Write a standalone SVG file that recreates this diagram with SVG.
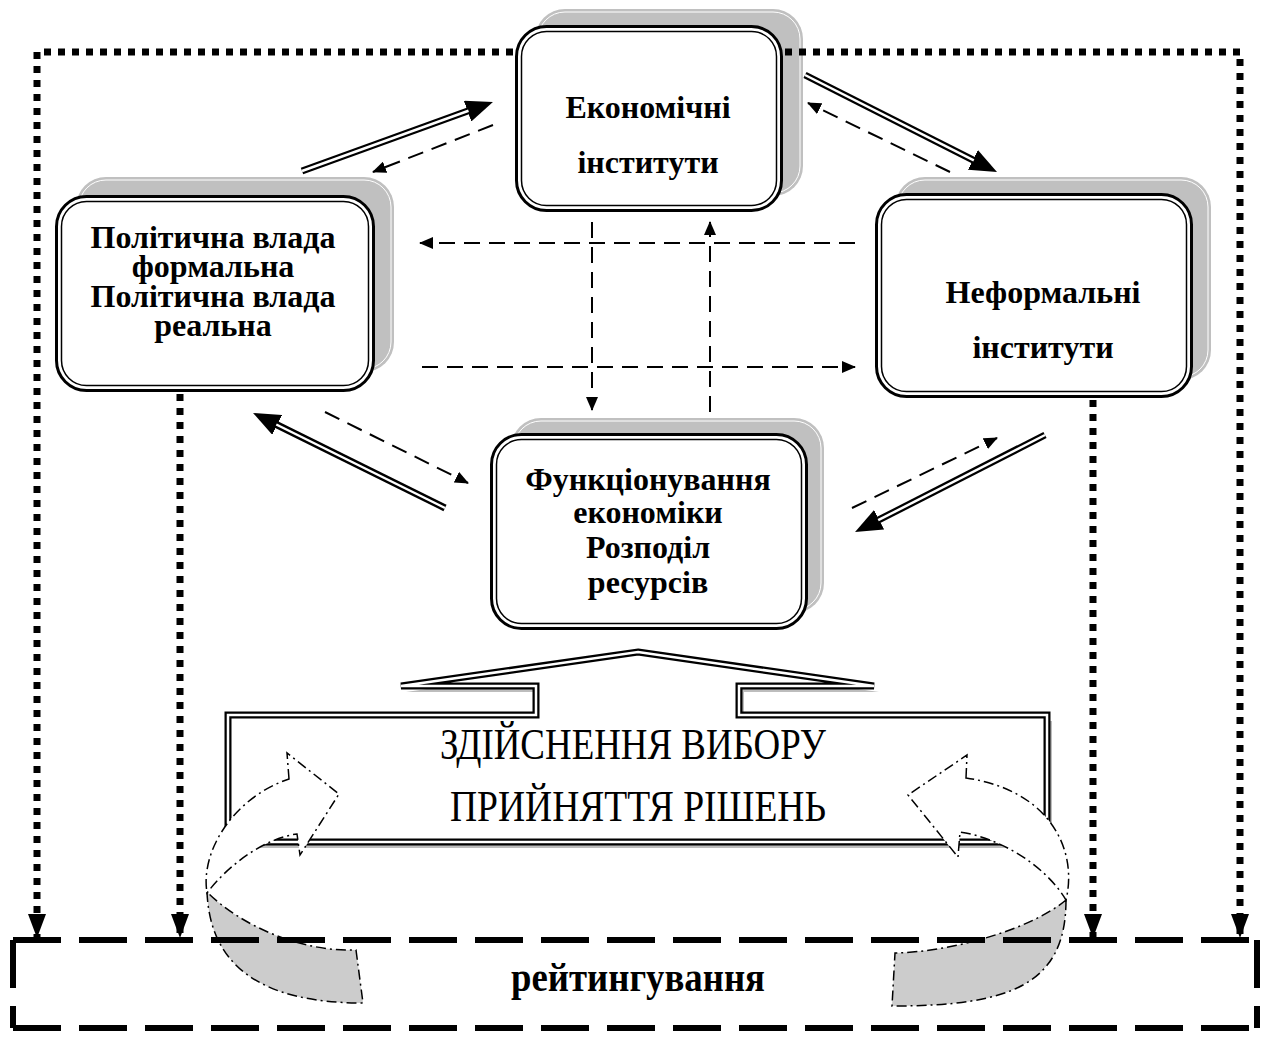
<svg xmlns="http://www.w3.org/2000/svg" width="1272" height="1037" viewBox="0 0 1272 1037">
<defs>
<style>
.sh{fill:#c0c0c0}
.shl{fill:none;stroke:#fff;stroke-width:1}
.bo{fill:#fff;stroke:#000;stroke-width:3}
.bi{fill:none;stroke:#000;stroke-width:1.5}
.t{font-family:"Liberation Serif","Times New Roman",serif;font-weight:bold;font-size:32px;text-anchor:middle;fill:#000}
.tc{font-family:"Liberation Serif","Times New Roman",serif;font-size:44px;text-anchor:middle;fill:#000}
.dot{fill:none;stroke:#000;stroke-width:7;stroke-dasharray:7 7}
.dash{fill:none;stroke:#000;stroke-width:2;stroke-dasharray:16 9}
.dblo{fill:none;stroke:#000;stroke-width:7}
.dbli{fill:none;stroke:#fff;stroke-width:2.5}
.bd{fill:none;stroke:#000;stroke-width:6;stroke-dasharray:48 18}
.cg{fill:#cccccc;stroke:#000;stroke-width:1.5;stroke-dasharray:10 4 2 4}
.cw{fill:#fff;stroke:#000;stroke-width:1.5;stroke-dasharray:10 4 2 4}
</style>
<marker id="sa" markerUnits="userSpaceOnUse" markerWidth="14" markerHeight="12" refX="13" refY="6" orient="auto" viewBox="0 0 14 12">
<path d="M0,0 L14,6 L0,12 Z" fill="#000"/>
</marker>
<marker id="da" markerUnits="userSpaceOnUse" markerWidth="24" markerHeight="18" refX="24" refY="9" orient="auto" viewBox="0 0 24 18">
<path d="M0,0 L24,9 L0,18 Z" fill="#000"/>
</marker>
<marker id="ha" markerUnits="userSpaceOnUse" markerWidth="27" markerHeight="22" refX="1" refY="11" orient="auto" viewBox="0 0 27 22">
<path d="M0,0 L27,11 L0,22 Z" fill="#000"/>
</marker>
</defs>
<rect width="1272" height="1037" fill="#fff"/>

<g id="econ">
<rect class="sh" x="535" y="9" width="268" height="187" rx="30"/>
<rect class="shl" x="538" y="12" width="262" height="181" rx="27"/>
<rect class="bo" x="516.5" y="26.5" width="265" height="184" rx="30"/>
<rect class="bi" x="521.5" y="31.5" width="255" height="174" rx="25"/>
<text class="t" x="648" y="118">Економічні</text>
<text class="t" x="648" y="173">інститути</text>
</g>

<g id="political">
<rect class="sh" x="76" y="177" width="318" height="195" rx="30"/>
<rect class="shl" x="79" y="180" width="312" height="189" rx="27"/>
<rect class="bo" x="56.5" y="196.5" width="317" height="194" rx="30"/>
<rect class="bi" x="61.5" y="201.5" width="307" height="184" rx="25"/>
<text class="t" x="213" y="248">Політична влада</text>
<text class="t" x="213" y="277">формальна</text>
<text class="t" x="213" y="307">Політична влада</text>
<text class="t" x="213" y="336">реальна</text>
</g>

<g id="informal">
<rect class="sh" x="895" y="177" width="316" height="203" rx="30"/>
<rect class="shl" x="898" y="180" width="310" height="197" rx="27"/>
<rect class="bo" x="876.5" y="194.5" width="315" height="202" rx="30"/>
<rect class="bi" x="881.5" y="199.5" width="305" height="192" rx="25"/>
<text class="t" x="1043" y="303">Неформальні</text>
<text class="t" x="1043" y="358">інститути</text>
</g>

<g id="functioning">
<rect class="sh" x="511" y="418" width="313" height="195" rx="30"/>
<rect class="shl" x="514" y="421" width="307" height="189" rx="27"/>
<rect class="bo" x="491.5" y="434.5" width="315" height="194" rx="30"/>
<rect class="bi" x="496.5" y="439.5" width="305" height="184" rx="25"/>
<text class="t" x="648" y="490">Функціонування</text>
<text class="t" x="648" y="523">економіки</text>
<text class="t" x="648" y="558">Розподіл</text>
<text class="t" x="648" y="593">ресурсів</text>
</g>

<g id="choice">
<path d="M638,652 L874,686 L739,686 L739,715 L1047,715 L1047,842 L228,842 L228,715 L536,715 L536,686 L401,686 Z" fill="#bdbdbd" transform="translate(5,6)"/>
<path d="M638,652 L874,686 L739,686 L739,715 L1047,715 L1047,842 L228,842 L228,715 L536,715 L536,686 L401,686 Z" fill="#fff" stroke="#000" stroke-width="7"/>
<path d="M638,652 L874,686 L739,686 L739,715 L1047,715 L1047,842 L228,842 L228,715 L536,715 L536,686 L401,686 Z" fill="none" stroke="#fff" stroke-width="2.5"/>
<text class="tc" x="633" y="759" textLength="386" lengthAdjust="spacingAndGlyphs">ЗДІЙСНЕННЯ ВИБОРУ</text>
<text class="tc" x="638" y="821" textLength="376" lengthAdjust="spacingAndGlyphs">ПРИЙНЯТТЯ РІШЕНЬ</text>
</g>

<g id="loop-left">
<path class="cg" d="M207,892 C210,965 260,1003 363,1003 L356,950 C300,952 240,925 207,892 Z"/>
<path class="cw" d="M289,779 L287,753 L339,794 L300,855 L297,834 C265,838 228,865 207,893 C200,850 235,797 289,779 Z"/>
</g>

<g id="loop-right">
<path class="cg" d="M1066,900 C1066,985 1010,1006 892,1006 L895,953 C950,952 1030,930 1066,900 Z"/>
<path class="cw" d="M966,778 L967,755 L908,795 L958,857 L960,832 C1000,838 1045,865 1066,900 C1078,850 1050,790 966,778 Z"/>
</g>

<g id="rating">
<path class="bd" d="M13,940 H1257"/>
<path class="bd" d="M13,1028 H1257"/>
<path class="bd" d="M13,940 V1028"/>
<path class="bd" d="M1257,940 V1028"/>
<text class="t" x="638" y="991" textLength="254" lengthAdjust="spacingAndGlyphs" style="font-size:40px">рейтингування</text>
</g>

<g id="connectors">
<path class="dot" d="M513,52 H37 V938" marker-end="url(#da)"/>
<path class="dot" d="M785,52 H1240 V938" marker-end="url(#da)"/>
<path class="dot" d="M180,394 V938" marker-end="url(#da)"/>
<path class="dot" d="M1093,400 V938" marker-end="url(#da)"/>

<path class="dblo" d="M302,171 L468.5,110.8" marker-end="url(#ha)"/>
<path class="dbli" d="M302,171 L468.5,110.8"/>
<path class="dblo" d="M805,75 L973.8,160.3" marker-end="url(#ha)"/>
<path class="dbli" d="M805,75 L973.8,160.3"/>
<path class="dblo" d="M445,508 L276.3,424.5" marker-end="url(#ha)"/>
<path class="dbli" d="M445,508 L276.3,424.5"/>
<path class="dblo" d="M1045,435 L878.2,520.2" marker-end="url(#ha)"/>
<path class="dbli" d="M1045,435 L878.2,520.2"/>

<path class="dash" d="M493,125 L373,172" marker-end="url(#sa)"/>
<path class="dash" d="M950,172 L808,103" marker-end="url(#sa)"/>
<path class="dash" d="M855,243 L420,243" marker-end="url(#sa)"/>
<path class="dash" d="M422,367 L855,367" marker-end="url(#sa)"/>
<path class="dash" d="M592,222 L592,410" marker-end="url(#sa)"/>
<path class="dash" d="M710,412 L710,222" marker-end="url(#sa)"/>
<path class="dash" d="M325,412 L468,483" marker-end="url(#sa)"/>
<path class="dash" d="M852,508 L997,438" marker-end="url(#sa)"/>
</g>
</svg>
